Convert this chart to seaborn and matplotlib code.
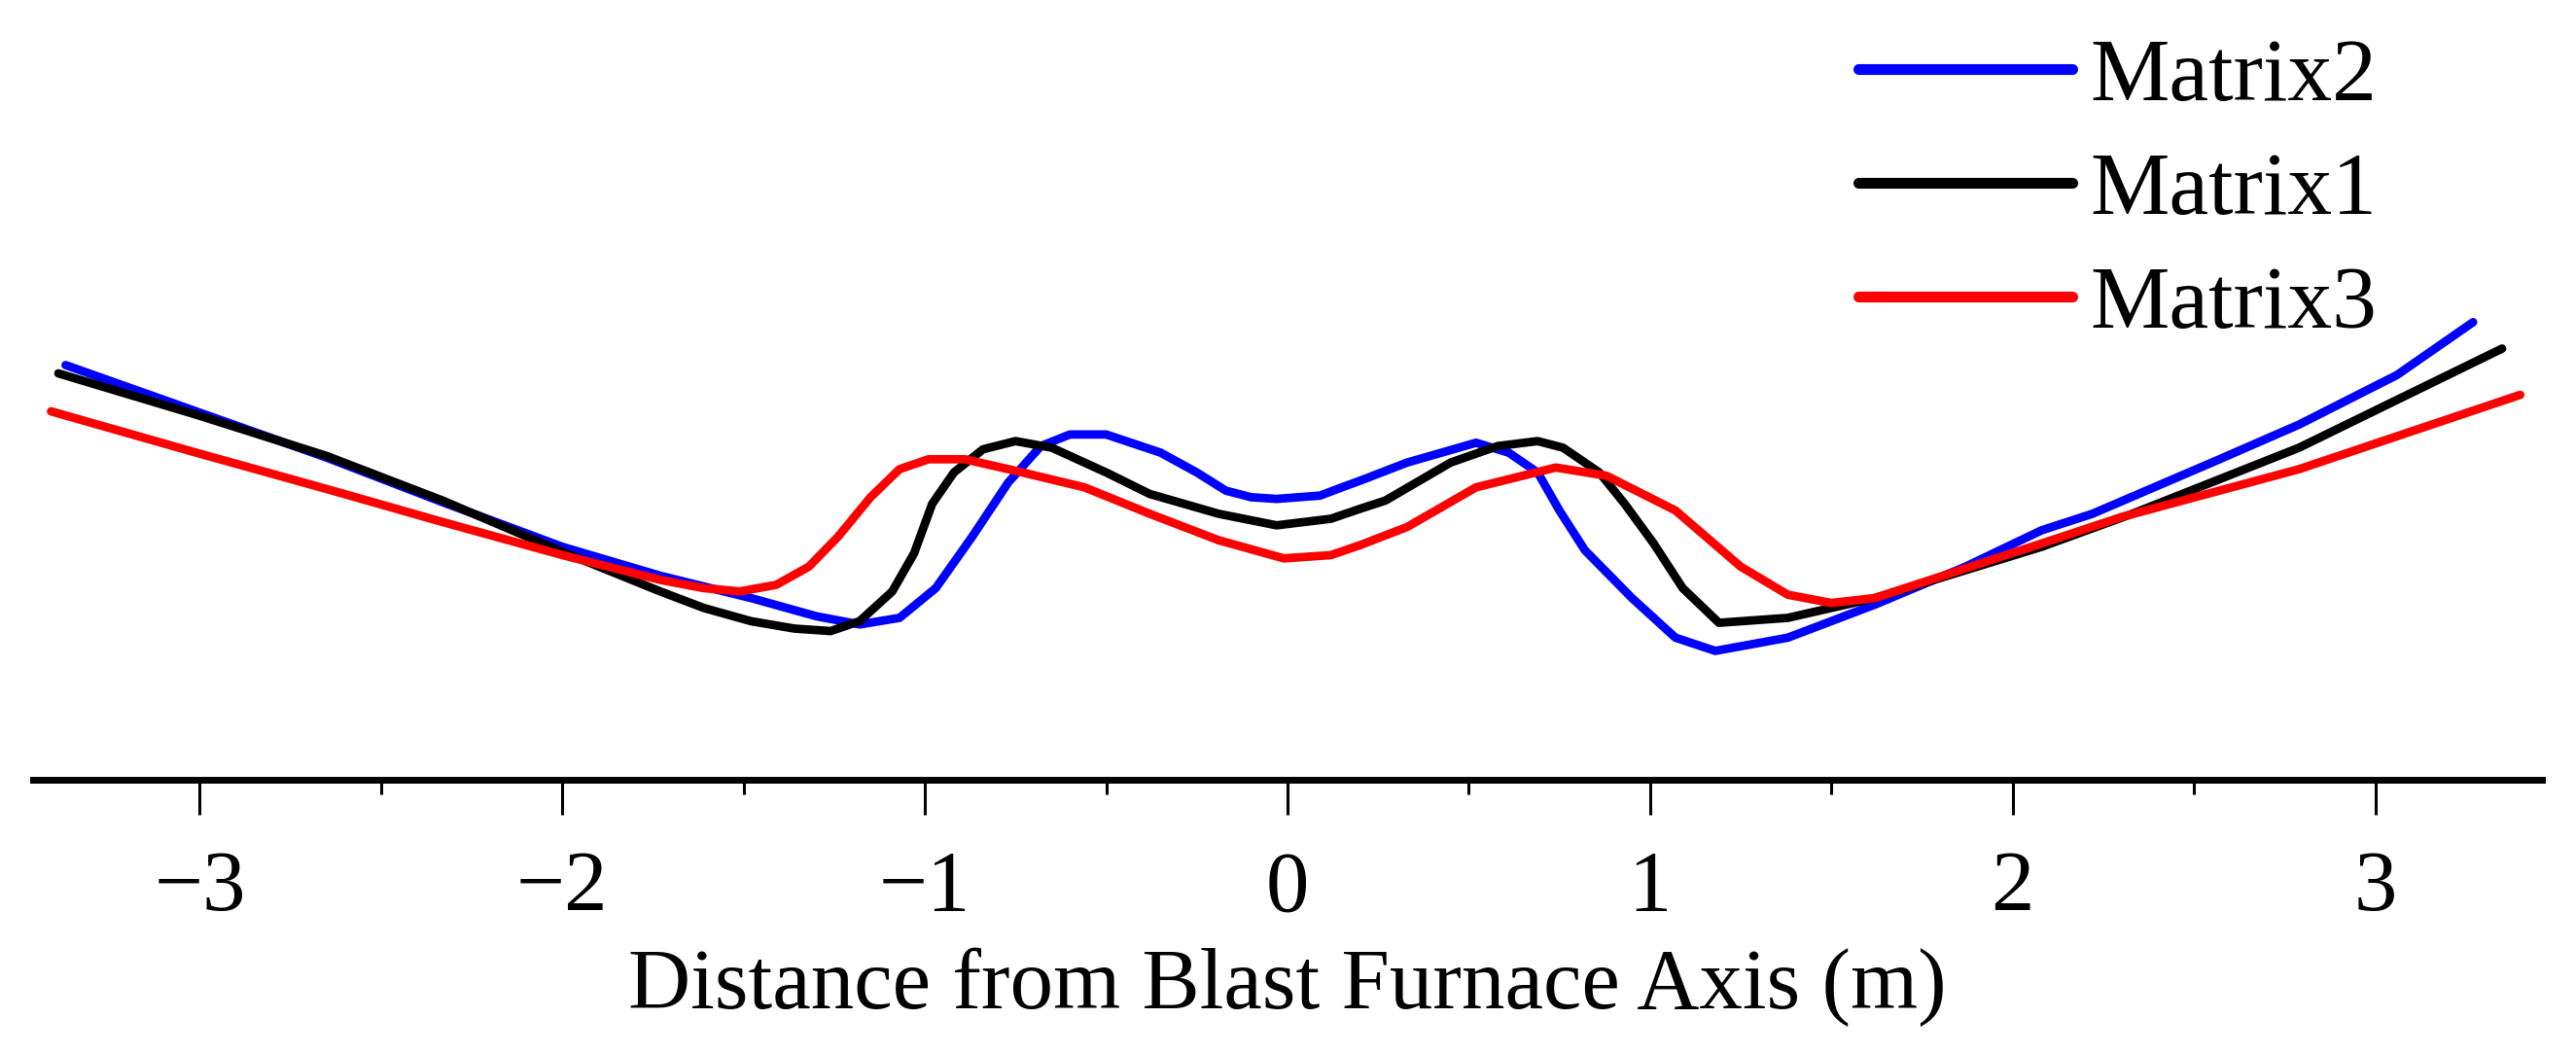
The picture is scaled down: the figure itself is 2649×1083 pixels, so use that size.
import numpy as np
import pandas as pd
import matplotlib
matplotlib.use("Agg")
import matplotlib.pyplot as plt
import seaborn as sns

# Matrix2 (blue)
m2_x = [-3.37, -3.01, -2.65, -2.33, -2.00, -1.73, -1.48, -1.30, -1.18, -1.07,
        -0.97, -0.87, -0.77, -0.68, -0.60, -0.50, -0.35, -0.25, -0.17, -0.10,
        -0.03, 0.09, 0.15, 0.20, 0.33, 0.52, 0.61, 0.69, 0.75, 0.82,
        0.95, 1.07, 1.18, 1.38, 1.62, 1.87, 2.08, 2.22, 2.56, 2.79,
        3.06, 3.27]
m2_y = [2.51, 2.23, 1.95, 1.68, 1.41, 1.235, 1.10, 0.99, 0.94, 0.98,
        1.16, 1.47, 1.80, 2.02, 2.09, 2.09, 1.98, 1.86, 1.75, 1.71,
        1.70, 1.72, 1.77, 1.81, 1.92, 2.04, 1.98, 1.86, 1.63, 1.39,
        1.10, 0.86, 0.78, 0.86, 1.06, 1.29, 1.51, 1.61, 1.93, 2.15,
        2.45, 2.77]

# Matrix1 (black)
m1_x = [-3.39, -3.01, -2.65, -2.33, -2.00, -1.73, -1.61, -1.48, -1.36, -1.26,
        -1.18, -1.09, -1.03, -0.98, -0.92, -0.84, -0.75, -0.65, -0.50, -0.38,
        -0.19, -0.03, 0.12, 0.20, 0.27, 0.45, 0.58, 0.69, 0.76, 0.86,
        0.93, 1.01, 1.09, 1.19, 1.38, 1.62, 2.08, 2.33, 2.79, 3.35]
m1_y = [2.46, 2.21, 1.96, 1.69, 1.38, 1.14, 1.04, 0.96, 0.915, 0.90,
        0.96, 1.14, 1.37, 1.67, 1.86, 2.00, 2.05, 2.01, 1.86, 1.73,
        1.61, 1.54, 1.58, 1.64, 1.69, 1.92, 2.02, 2.05, 2.01, 1.86,
        1.67, 1.43, 1.16, 0.95, 0.98, 1.10, 1.41, 1.61, 2.01, 2.61]

# Matrix3 (red)
m3_x = [-3.41, -3.01, -2.65, -2.33, -2.00, -1.73, -1.61, -1.51, -1.41, -1.32,
        -1.24, -1.15, -1.07, -0.99, -0.89, -0.75, -0.56, -0.38, -0.19, -0.01,
        0.12, 0.20, 0.33, 0.52, 0.74, 0.88, 1.07, 1.25, 1.38, 1.50,
        1.62, 2.08, 2.30, 2.79, 3.40]
m3_y = [2.23, 1.98, 1.76, 1.56, 1.36, 1.21, 1.16, 1.14, 1.18, 1.29,
        1.47, 1.71, 1.88, 1.94, 1.94, 1.87, 1.77, 1.61, 1.45, 1.34,
        1.36, 1.42, 1.53, 1.77, 1.89, 1.84, 1.63, 1.29, 1.12, 1.07,
        1.10, 1.43, 1.59, 1.88, 2.33]

series_names = ["Matrix2", "Matrix1", "Matrix3"]
series_colors = ["#0000FF", "#000000", "#FF0000"]
x_ticks = [-3, -2, -1, 0, 1, 2, 3]
x_label = "Distance from Blast Furnace Axis (m)"


def build_frame():
    parts = []
    for name, xs, ys in zip(series_names, [m2_x, m1_x, m3_x], [m2_y, m1_y, m3_y]):
        parts.append(pd.DataFrame({"x": xs, "y": ys, "series": name}))
    return pd.concat(parts, ignore_index=True)


def main():
    df = build_frame()

    sns.set_style("white")
    plt.rcParams["font.family"] = ["Liberation Serif", "Noto Sans CJK SC", "DejaVu Sans"]
    plt.rcParams["text.color"] = "black"
    plt.rcParams["axes.labelcolor"] = "black"
    plt.rcParams["xtick.color"] = "black"

    fig = plt.figure(figsize=(26.49, 10.83), dpi=100)
    ax = fig.add_axes([0.0128, 0.2595, 0.974, 0.7405])

    sns.lineplot(data=df, x="x", y="y", hue="series", hue_order=series_names,
                 palette=series_colors, estimator=None, sort=False,
                 linewidth=6.3, ax=ax)
    for line in ax.get_lines():
        line.set_solid_joinstyle("round")

    ax.set_xlim(-3.46, 3.46)
    ax.set_ylim(0, 4.72)
    ax.set_xticks(x_ticks)
    ax.set_xticklabels([f"{t}".replace("-", "\u2212") for t in x_ticks])
    ax.set_xticks(np.arange(-2.5, 3.0, 1.0), minor=True)
    ax.set_yticks([])
    ax.set_ylabel("")
    ax.set_xlabel(x_label, fontsize=64, labelpad=14)

    for side in ["left", "top", "right"]:
        ax.spines[side].set_visible(False)
    ax.spines["bottom"].set_linewidth(5)
    ax.spines["bottom"].set_color("black")
    ax.tick_params(axis="x", which="major", direction="out", length=26,
                   width=2.2, labelsize=64, pad=26, bottom=True, color="black")
    ax.tick_params(axis="x", which="minor", direction="out", length=11,
                   width=2.2, bottom=True, color="black")

    leg = ax.legend(loc="upper left", bbox_to_anchor=(0.7214, 0.964),
                    bbox_transform=fig.transFigure, frameon=False,
                    fontsize=66, handlelength=2.4, handletextpad=0.2,
                    labelspacing=0.37, borderpad=0.0, borderaxespad=0.0)
    for line in leg.get_lines():
        line.set_linewidth(8)
        line.set_solid_capstyle("round")

    fig.savefig("out.png", dpi=100)


if __name__ == "__main__":
    main()
